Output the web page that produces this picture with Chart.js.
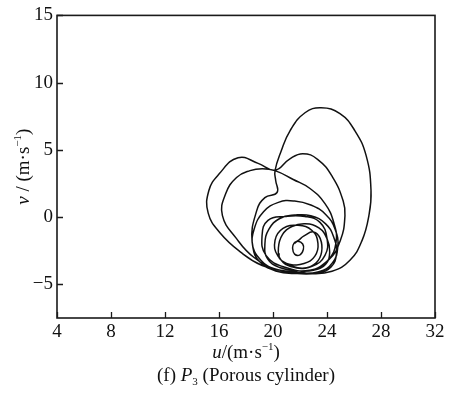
<!DOCTYPE html>
<html>
<head>
<meta charset="utf-8">
<script src="https://cdn.jsdelivr.net/npm/chart.js@4.4.1/dist/chart.umd.min.js"></script>
<style>
  html, body { margin: 0; padding: 0; background: #fff; }
  #wrap { width: 451px; height: 395px; }
</style>
</head>
<body>
<div id="wrap"><canvas id="phase" width="451" height="395"></canvas></div>
<script>
// Velocity trajectory u-v at probe P3 (porous cylinder)
const uVals = [
  21.6, 21.85, 22.2, 22.25, 22.0, 21.6, 21.45, 21.55, 21.85,
  22.3, 23.0, 23.5, 23.6, 23.2, 22.4, 21.4, 20.6, 20.4, 20.7, 21.4, 22.4,
  23.4, 24.0, 24.2, 23.9, 23.0, 21.8, 20.5, 19.6, 19.4, 19.7, 20.5, 21.6, 22.8,
  23.9, 24.5, 24.7, 24.3, 23.3, 21.8, 20.2, 19.0, 18.5, 18.6, 19.3, 20.4, 21.6, 22.8,
  23.9, 24.6, 24.8, 24.4, 23.4, 21.9, 20.3, 19.1, 18.45, 18.8, 19.4, 20.3, 20.2, 20.15,
  20.6, 21.26, 22.37, 23.56, 24.96, 26.07, 26.9, 27.26, 27.1, 26.6, 25.7, 24.37, 22.74, 20.9,
  19.2, 17.6, 16.1, 15.2, 15.25, 16.0, 17.41, 18.9, 20.15, 21.2, 22.2, 23.3, 24.4, 25.2, 25.33, 25.0, 24.1, 22.4, 20.3,
  18.6, 17.3, 16.25, 16.5, 17.3, 18.3, 19.2, 20.15, 21.5, 22.74, 23.85, 24.5, 24.67, 24.07, 22.74,
  20.89, 19.48, 19.19, 19.63, 20.89, 22.37, 23.48, 24.0, 23.85, 22.89, 21.41, 20.37, 20.15, 20.74,
  21.85, 22.89, 23.33, 23.1, 22.3, 21.2, 20.5, 20.45
];
const vVals = [
  -1.95, -1.8, -2.0, -2.4, -2.8, -2.75, -2.3, -1.95, -1.75,
  -1.4, -1.1, -1.6, -2.6, -3.4, -3.8, -3.7, -3.2, -2.3, -1.3, -0.7, -0.5,
  -0.8, -1.6, -2.6, -3.5, -3.95, -4.0, -3.75, -3.1, -2.0, -0.9, -0.1, 0.15, 0.1,
  -0.5, -1.5, -2.7, -3.7, -4.15, -4.2, -4.0, -3.3, -2.2, -0.9, 0.4, 1.1, 1.2, 0.9,
  0.2, -0.9, -2.2, -3.4, -4.05, -4.15, -3.9, -3.2, -1.8, 0.5, 1.45, 1.83, 2.72, 3.46,
  4.9, 6.42, 7.76, 8.13, 7.7, 6.42, 4.57, 1.98, 0.1, -1.73, -3.21, -4.03, -4.2, -4.0,
  -3.6, -2.6, -1.2, 0.3, 1.98, 3.2, 4.42, 4.0, 3.5, 4.3, 4.72, 4.3, 3.0, 1.2, 0.1, -1.7, -3.2, -4.05, -3.9,
  -3.0, -1.6, 0.13, 1.75, 2.95, 3.46, 3.6, 3.46, 2.8, 2.13, 1.0, -0.4, -1.87, -3.21, -3.95,
  -3.73, -2.84, -1.36, -0.24, 0.05, 0.05, -0.39, -1.58, -2.84, -3.65, -3.65, -2.9, -1.73, -0.84,
  -0.61, -0.99, -1.95, -2.9, -3.45, -3.5, -3.1, -2.7
];

const xTicks = [4, 8, 12, 16, 20, 24, 28, 32];
const yTicks = [-5, 0, 5, 10, 15];

const serif = '"Liberation Serif", "Times New Roman", serif';

// draw a row of text pieces with their own fonts / vertical shifts, centred on x
function drawRuns(ctx, runs, cx, cy) {
  let total = 0;
  runs.forEach(r => { ctx.font = r.font; total += ctx.measureText(r.t).width; });
  let x = cx - total / 2;
  ctx.textAlign = 'left';
  ctx.textBaseline = 'alphabetic';
  runs.forEach(r => {
    ctx.font = r.font;
    ctx.fillText(r.t, x, cy + (r.dy || 0));
    x += ctx.measureText(r.t).width;
  });
}

const frame = {
  id: 'frame',
  afterDraw(chart) {
    const { ctx, chartArea: a, scales } = chart;
    ctx.save();
    ctx.strokeStyle = '#1a1a1a';
    ctx.lineWidth = 1.6;
    ctx.strokeRect(a.left, a.top, a.right - a.left, a.bottom - a.top);

    // inward ticks on bottom and left
    ctx.lineWidth = 1.3;
    ctx.beginPath();
    xTicks.forEach(v => {
      const x = Math.round(scales.x.getPixelForValue(v)) + 0.5;
      ctx.moveTo(x, a.bottom);
      ctx.lineTo(x, a.bottom - 6);
    });
    yTicks.forEach(v => {
      const y = Math.round(scales.y.getPixelForValue(v)) + 0.5;
      ctx.moveTo(a.left, y);
      ctx.lineTo(a.left + 6, y);
    });
    ctx.stroke();

    ctx.fillStyle = '#111';
    const base = '19px ' + serif;
    const ital = 'italic 19px ' + serif;
    const small = '11px ' + serif;
    const cx = (a.left + a.right) / 2;

    drawRuns(ctx, [
      { t: 'u', font: ital },
      { t: '/(m·s', font: base },
      { t: '−1', font: small, dy: -8 },
      { t: ')', font: base }
    ], cx, 358);

    drawRuns(ctx, [
      { t: '(f) ', font: base },
      { t: 'P', font: ital },
      { t: '3', font: small, dy: 4 },
      { t: ' (Porous cylinder)', font: base }
    ], cx, 381);

    ctx.translate(29, (a.top + a.bottom) / 2);
    ctx.rotate(-Math.PI / 2);
    drawRuns(ctx, [
      { t: 'v', font: ital },
      { t: ' / (m·s', font: base },
      { t: '−1', font: small, dy: -8 },
      { t: ')', font: base }
    ], 0, 0);
    ctx.restore();
  }
};

const points = uVals.map((u, i) => ({ x: u, y: vVals[i] }));

new Chart(document.getElementById('phase'), {
  type: 'scatter',
  data: {
    datasets: [{
      data: points,
      showLine: true,
      borderColor: '#111',
      borderWidth: 1.5,
      pointRadius: 0,
      tension: 0.45,
      fill: false
    }]
  },
  options: {
    responsive: false,
    animation: false,
    devicePixelRatio: 1,
    layout: { padding: { top: 14, right: 16, left: 0, bottom: 0 } },
    plugins: { legend: { display: false }, tooltip: { enabled: false } },
    scales: {
      x: {
        type: 'linear',
        min: 4,
        max: 32,
        afterBuildTicks: s => { s.ticks = xTicks.map(v => ({ value: v })); },
        afterFit: s => { s.height = 77; },
        grid: { display: false, drawTicks: false },
        border: { display: false },
        ticks: { color: '#111', padding: 3, maxRotation: 0, font: { family: serif, size: 19 } }
      },
      y: {
        type: 'linear',
        min: -7.5,
        max: 15,
        afterBuildTicks: s => { s.ticks = yTicks.map(v => ({ value: v })); },
        afterFit: s => { s.width = 57; },
        grid: { display: false, drawTicks: false },
        border: { display: false },
        ticks: {
          color: '#111', padding: 4,
          font: { family: serif, size: 19 },
          callback: v => (v < 0 ? '−' + Math.abs(v) : '' + v)
        }
      }
    }
  },
  plugins: [frame]
});
</script>
</body>
</html>
